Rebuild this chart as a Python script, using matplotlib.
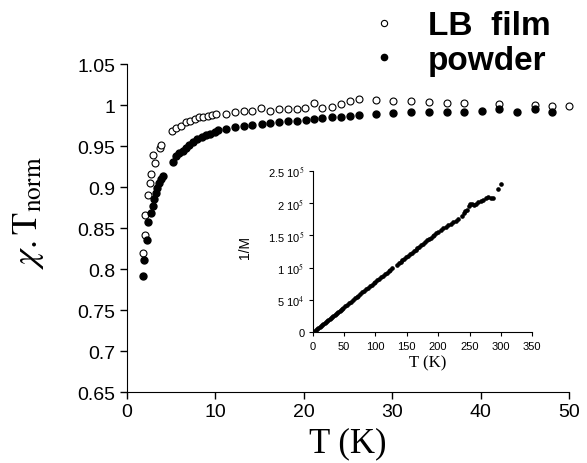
import matplotlib
matplotlib.use("Agg")
import matplotlib.pyplot as plt

plt.rcParams['font.family'] = ['Liberation Sans', 'DejaVu Sans']
plt.rcParams['mathtext.fontset'] = 'stix'

# main panel: normalised chi.T vs T
lb_T = [1.87, 2.06, 2.04, 2.41, 2.68, 2.79, 3.17, 2.98, 3.73, 3.92, 5.13, 5.62, 6.18,
        6.67, 7.2, 7.69, 8.18, 8.63, 9.2, 9.69, 10.1, 11.2, 12.2, 13.2, 14.2, 15.2,
        16.2, 17.2, 18.2, 19.2, 20.1, 21.2, 22.1, 23.2, 24.2, 25.2, 26.2, 28.2, 30.1,
        32.1, 34.2, 36.2, 38.1, 42.1, 46.1, 48.0, 50.0]
lb_chi = [0.820, 0.842, 0.866, 0.890, 0.905, 0.916, 0.929, 0.939, 0.948, 0.951, 0.968,
          0.972, 0.975, 0.979, 0.981, 0.983, 0.985, 0.986, 0.987, 0.988, 0.989, 0.989,
          0.992, 0.993, 0.993, 0.996, 0.993, 0.995, 0.995, 0.995, 0.997, 1.003, 0.997,
          0.998, 1.001, 1.005, 1.007, 1.006, 1.005, 1.005, 1.004, 1.003, 1.002, 1.001,
          1.000, 0.999, 0.999]

pw_T = [1.9, 2.0, 2.26, 2.44, 2.71, 2.94, 3.12, 3.31, 3.46, 3.65, 3.85, 4.07, 5.2, 5.57,
        5.95, 6.32, 6.7, 7.07, 7.53, 7.98, 8.47, 8.96, 9.41, 9.98, 10.35, 11.2, 12.2,
        13.25, 14.2, 15.25, 16.2, 17.2, 18.2, 19.2, 20.2, 21.2, 22.1, 23.2, 24.2, 25.2,
        26.2, 28.2, 30.1, 32.1, 34.2, 36.2, 38.1, 40.1, 42.1, 44.1, 46.1, 48.0]
pw_chi = [0.792, 0.811, 0.836, 0.857, 0.868, 0.877, 0.886, 0.893, 0.899, 0.905, 0.910,
          0.914, 0.931, 0.938, 0.941, 0.944, 0.948, 0.951, 0.955, 0.959, 0.961, 0.963,
          0.965, 0.967, 0.969, 0.971, 0.973, 0.974, 0.976, 0.977, 0.978, 0.979, 0.980,
          0.981, 0.982, 0.983, 0.984, 0.985, 0.986, 0.987, 0.988, 0.989, 0.990, 0.991,
          0.991, 0.992, 0.992, 0.993, 0.995, 0.992, 0.995, 0.992]

# inset: 1/M vs T (M values in units of 1e3)
ins_T = [1, 3, 5, 7, 9, 11, 13, 15, 17, 19, 21, 23, 25, 27, 29, 31, 33, 35, 37, 39, 41,
         43, 45, 47, 49, 52, 55, 58, 61, 64, 67, 70, 73, 76, 79, 82, 85, 88, 91, 94, 97,
         100, 103, 106, 109, 112, 115, 118, 121, 124, 127, 134, 137, 140, 143, 146, 149,
         152, 155, 158, 161, 164, 167, 170, 173, 176, 179, 182, 185, 188, 191, 194, 197,
         200, 204, 208, 212, 216, 220, 224, 228, 232, 238, 241, 243, 246, 249, 251, 254,
         257, 260, 264, 268, 272, 276, 280, 284, 288, 296, 300]
ins_M = [0.8, 2.3, 3.9, 5.5, 7.0, 8.6, 10.1, 11.7, 13.3, 14.8, 16.4, 17.9, 19.5, 21.1,
         22.6, 24.2, 25.7, 27.3, 28.9, 30.4, 32.0, 33.5, 35.1, 36.7, 38.2, 40.6, 42.9,
         45.2, 47.6, 49.9, 52.3, 54.6, 56.9, 59.3, 61.6, 64.0, 66.3, 68.6, 71.0, 73.3,
         75.7, 78.0, 80.3, 82.7, 85.0, 87.4, 89.7, 92.0, 94.4, 96.7, 99.1, 104.5, 106.9,
         109.2, 111.5, 113.9, 116.2, 118.6, 120.9, 123.2, 125.6, 127.9, 130.3, 132.6,
         134.9, 137.3, 139.6, 142.0, 144.3, 146.6, 148.6, 150.8, 152.9, 154.7, 157.9,
         160.8, 163.5, 165.8, 168.0, 170.2, 172.3, 174.8, 180.0, 185.0, 187.0, 189.0,
         196.0, 198.5, 198.0, 197.5, 199.0, 201.0, 203.0, 205.0, 207.0, 209.0, 208.0,
         207.0, 221.0, 229.0]
ins_yticks = [0, 50, 100, 150, 200, 250]
ins_ylabels = ['0', r'5 10$^4$', r'1 10$^5$', r'1.5 10$^5$', r'2 10$^5$', r'2.5 10$^5$']

fig = plt.figure(figsize=(5.87, 4.64), dpi=100)
ax = fig.add_axes([0.2158, 0.1524, 0.7541, 0.7075])

ax.plot(lb_T, lb_chi, 'o', mfc='white', mec='black', mew=0.8, ms=5, clip_on=False,
        label='LB  film')
ax.plot(pw_T, pw_chi, 'o', color='black', ms=5, clip_on=False, label='powder')

ax.set_xlim(0, 50)
ax.set_ylim(0.65, 1.05)
ax.set_xticks([0, 10, 20, 30, 40, 50])
ax.set_yticks([0.65, 0.7, 0.75, 0.8, 0.85, 0.9, 0.95, 1.0, 1.05])
ax.set_yticklabels(['0.65', '0.7', '0.75', '0.8', '0.85', '0.9', '0.95', '1', '1.05'])
for s in ['top', 'right']:
    ax.spines[s].set_visible(False)
ax.tick_params(direction='out', length=5, width=1, labelsize=14, pad=3)

ax.set_xlabel('T (K)', family='Liberation Serif', fontsize=25)
ax.xaxis.set_label_coords(0.5, -0.105)
ax.set_ylabel(r'$\chi.\mathrm{T}_{\mathrm{norm}}$', fontsize=26)
ax.yaxis.set_label_coords(-0.183, 0.55)

leg = ax.legend(loc='upper right', bbox_to_anchor=(1.025, 1.255), frameon=False,
                prop={'family': 'Liberation Sans', 'weight': 'bold', 'size': 24},
                handletextpad=0.8, labelspacing=0.1, markerscale=0.9,
                handlelength=1.0)

# inset
ins = fig.add_axes([0.5327, 0.2817, 0.3741, 0.3483])
ins.plot(ins_T, ins_M, 'o', color='black', ms=2.3)
ins.set_xlim(0, 350)
ins.set_ylim(0, 250)
ins.set_xticks([0, 50, 100, 150, 200, 250, 300, 350])
ins.set_yticks(ins_yticks)
ins.set_yticklabels(ins_ylabels)
for s in ['top', 'right']:
    ins.spines[s].set_visible(False)
for s in ['left', 'bottom']:
    ins.spines[s].set_linewidth(0.8)
ins.tick_params(direction='out', length=3, width=0.8, labelsize=8, pad=3)
ins.set_xlabel('T (K)', family='Liberation Serif', fontsize=12)
ins.xaxis.set_label_coords(0.525, -0.135)
ins.set_ylabel('1/M', family='Liberation Sans', fontsize=10)
ins.yaxis.set_label_coords(-0.275, 0.53)

fig.savefig('out.png', dpi=100)
